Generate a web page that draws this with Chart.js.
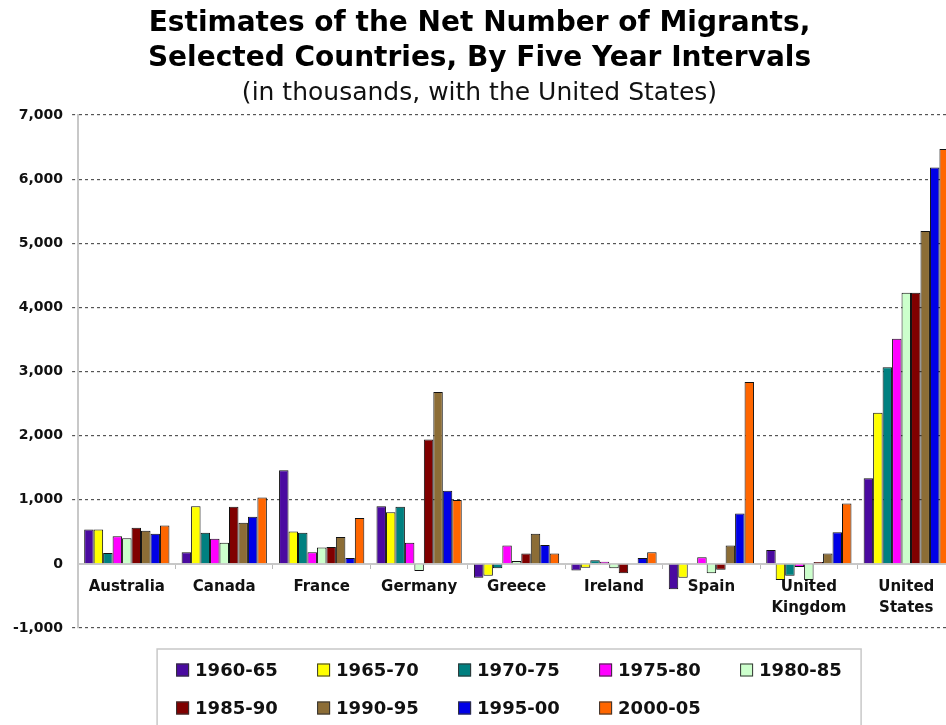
<!DOCTYPE html>
<html>
<head>
<meta charset="utf-8">
<script src="https://cdn.jsdelivr.net/npm/chart.js@4/dist/chart.umd.min.js"></script>
<style>
  html, body { margin: 0; padding: 0; background: #fff; overflow: hidden; }
  #myChart { display: block; }
</style>
</head>
<body>
<canvas id="myChart" width="964" height="725"></canvas>
<script>
// net migrants, thousands
const countries = ['Australia', 'Canada', 'France', 'Germany', 'Greece', 'Ireland', 'Spain',
  ['United', 'Kingdom'], ['United', 'States']];
const periods = ['1960-65', '1965-70', '1970-75', '1975-80', '1980-85', '1985-90', '1990-95', '1995-00', '2000-05'];
const colors = ['#4a0aa0', '#ffff00', '#008080', '#ff00ff', '#ccffcc', '#800000', '#8c6d36', '#0000e6', '#ff6600'];

const v1960 = [535, 180, 1460, 900, -215, -105, -395, 215, 1335];
const v1965 = [535, 900, 505, 805, -185, -60, -215, -250, 2355];
const v1970 = [170, 485, 485, 890, -70, 55, 10, -185, 3065];
const v1975 = [430, 390, 180, 330, 285, 35, 105, -50, 3510];
const v1980 = [400, 330, 255, -110, 45, -70, -145, -250, 4230];
const v1985 = [565, 890, 265, 1940, 160, -145, -90, 30, 4230];
const v1990 = [515, 640, 420, 2680, 470, 0, 285, 160, 5190];
const v1995 = [470, 735, 90, 1140, 295, 90, 785, 495, 6180];
const v2000 = [600, 1035, 715, 995, 160, 180, 2835, 940, 6470];
const series = [v1960, v1965, v1970, v1975, v1980, v1985, v1990, v1995, v2000];

const yMin = -1000, yMax = 7000, yStep = 1000;
const FONT = "'DejaVu Sans', Verdana, sans-serif";

// legend in a bordered box, 5 per row
const boxLegend = {
  id: 'boxLegend',
  afterDraw(chart) {
    const ctx = chart.ctx;
    const left = chart.chartArea.left + 79;
    const top = chart.chartArea.bottom + 21;
    ctx.save();
    ctx.fillStyle = '#fff';
    ctx.strokeStyle = '#c8c8c8';
    ctx.lineWidth = 1.5;
    ctx.fillRect(left, top, 704, 110);
    ctx.strokeRect(left, top, 704, 110);
    ctx.font = 'bold 18px ' + FONT;
    ctx.textBaseline = 'middle';
    ctx.textAlign = 'left';
    chart.data.datasets.forEach((ds, i) => {
      const x = left + 19 + (i % 5) * 141;
      const y = top + 21 + Math.floor(i / 5) * 38;
      ctx.fillStyle = ds.backgroundColor;
      ctx.fillRect(x, y - 6.5, 13, 13);
      ctx.strokeStyle = '#333';
      ctx.lineWidth = 1;
      ctx.strokeRect(x + 0.5, y - 6, 12, 12);
      ctx.fillStyle = '#111';
      ctx.fillText(ds.label, x + 19, y + 1);
    });
    ctx.restore();
  }
};

const whiteBg = {
  id: 'whiteBg',
  beforeDraw(chart) {
    const ctx = chart.ctx;
    ctx.save();
    ctx.fillStyle = '#fff';
    ctx.fillRect(0, 0, chart.width, chart.height);
    ctx.restore();
  }
};

const data = {
  labels: countries,
  datasets: periods.map((p, i) => ({
    label: p,
    data: series[i],
    backgroundColor: colors[i],
    borderColor: '#111',
    borderWidth: 1,
    barPercentage: 1.0,
    categoryPercentage: 0.875
  }))
};

const config = {
  type: 'bar',
  data,
  plugins: [whiteBg, boxLegend],
  options: {
    responsive: false,
    animation: false,
    layout: { padding: { left: 4, right: 9, top: 0, bottom: 97 } },
    plugins: {
      legend: { display: false },
      tooltip: { enabled: false },
      title: {
        display: true,
        text: ['Estimates of the Net Number of Migrants,', 'Selected Countries, By Five Year Intervals'],
        color: '#000',
        font: { family: FONT, size: 28, weight: 'bold', lineHeight: 1.25 },
        padding: { top: 6, bottom: 0 }
      },
      subtitle: {
        display: true,
        text: '(in thousands, with the United States)',
        color: '#111',
        font: { family: FONT, size: 25, weight: 'normal', lineHeight: 1.2 },
        padding: { top: 2, bottom: 7 }
      }
    },
    scales: {
      x: {
        position: { y: 0 },
        grid: { display: true, drawOnChartArea: false, offset: true, tickLength: 4, color: '#bbb' },
        border: { color: '#c8c8c8', width: 2 },
        ticks: {
          color: '#111',
          padding: 9,
          maxRotation: 0,
          autoSkip: false,
          font: { family: FONT, size: 15, weight: 'bold', lineHeight: 1.4 }
        }
      },
      y: {
        min: yMin,
        max: yMax,
        grid: {
          color: c => (c.tick && c.tick.value === 0) ? 'rgba(0,0,0,0)' : '#555',
          lineWidth: 1.2,
          tickLength: 6,
          tickBorderDash: [3, 3]
        },
        border: { color: '#c8c8c8', width: 2, dash: [3, 3] },
        ticks: {
          stepSize: yStep,
          color: '#111',
          padding: 9,
          font: { family: FONT, size: 14, weight: 'bold' },
          callback: v => v.toLocaleString('en-US')
        }
      }
    }
  }
};

const myChart = new Chart(document.getElementById('myChart'), config);
</script>
</body>
</html>
